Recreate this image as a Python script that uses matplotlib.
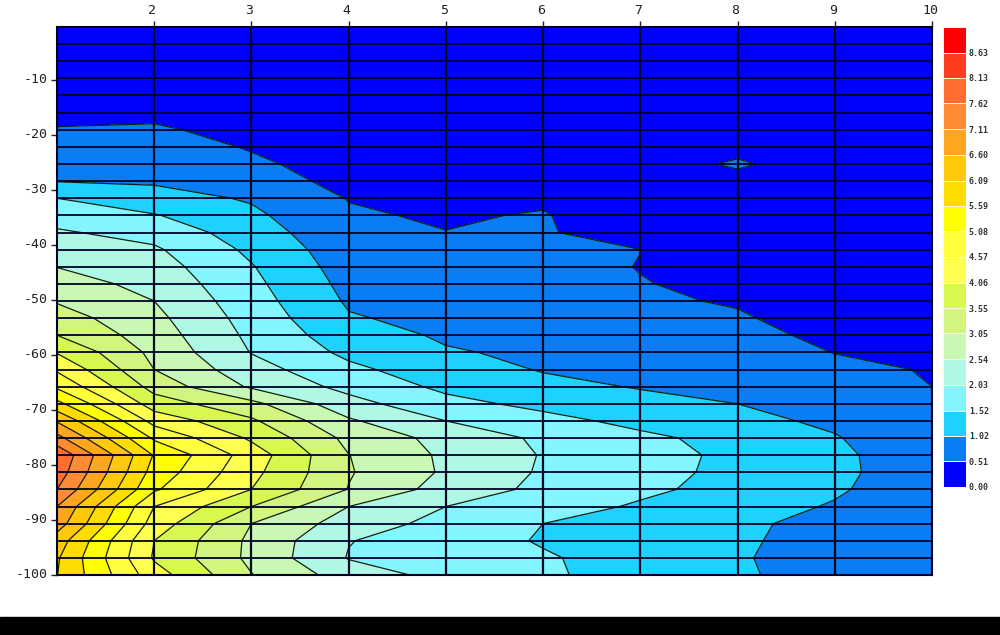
import numpy as np
import matplotlib
matplotlib.use("Agg")
import matplotlib.pyplot as plt
from matplotlib.colors import ListedColormap, BoundaryNorm
from matplotlib.patches import Rectangle
from matplotlib.transforms import ScaledTranslation

x_vals = [1, 2, 3, 4, 5, 6, 7, 8, 9, 10]
depth = [-0.36, -3.47, -6.59, -9.70, -12.81, -15.93, -19.04, -22.16, -25.27, -28.38, -31.50,
         -34.61, -37.73, -40.84, -43.95, -47.07, -50.18, -53.30, -56.41, -59.52, -62.64,
         -65.75, -68.87, -71.98, -75.09, -78.21, -81.32, -84.44, -87.55, -90.66, -93.78,
         -96.89, -100.0]

# values per column, top row first
col1 = [.20, .20, .20, .25, .32, .42, .53, .69, .85, 1.00, 1.52, 1.82, 2.09, 2.31, 2.53, 2.76, 3.01,
        3.28, 3.55, 4.03, 4.50, 4.99, 5.74, 6.55, 7.28, 8.05, 7.90, 7.62, 7.11, 6.85, 6.35, 6.15, 6.10]
col2 = [.20, .20, .22, .26, .32, .40, .57, .69, .82, .96, 1.21, 1.55, 1.85, 2.10, 2.25, 2.39, 2.54,
        2.67, 2.79, 2.92, 3.05, 3.36, 3.80, 4.39, 5.00, 5.55, 5.39, 5.15, 4.57, 4.35, 4.06, 4.00, 4.29]
col3 = [.20, .20, .20, .22, .26, .30, .36, .48, .58, .72, .97, 1.12, 1.27, 1.42, 1.55, 1.64, 1.73,
        1.83, 1.92, 2.01, 2.24, 2.47, 3.19, 3.63, 3.98, 4.33, 4.20, 4.06, 3.55, 3.05, 2.94, 2.93, 3.07]
col4 = [.20, .20, .20, .20, .22, .24, .27, .30, .34, .38, .49, .57, .64, .73, .80, .88, .96,
        1.06, 1.23, 1.41, 1.63, 1.88, 2.21, 2.61, 2.92, 3.06, 3.09, 3.03, 2.54, 2.31, 2.05, 2.00, 2.30]
col5 = [.20, .20, .20, .20, .20, .22, .24, .27, .30, .35, .40, .45, .52, .59, .66, .74, .82,
        .89, .96, 1.06, 1.24, 1.41, 1.67, 2.03, 2.37, 2.45, 2.47, 2.33, 2.03, 1.86, 1.75, 1.80, 1.87]
col6 = [.20, .20, .20, .20, .20, .22, .24, .27, .30, .35, .42, .55, .57, .62, .68, .74, .79,
        .85, .90, .94, .99, 1.15, 1.39, 1.68, 1.94, 2.00, 1.97, 1.91, 1.74, 1.52, 1.48, 1.57, 1.59]
col7 = [.20, .20, .20, .20, .20, .20, .20, .20, .20, .15, .10, .10, .20, .515, .495, .53, .58,
        .65, .73, .82, .90, .99, 1.17, 1.38, 1.63, 1.71, 1.68, 1.62, 1.46, 1.30, 1.27, 1.32, 1.33]
col8 = [.15, .15, .15, .15, .15, .15, .15, .30, .60, .30, .15, .15, .20, .25, .30, .40, .47,
        .56, .65, .74, .83, .92, 1.02, 1.14, 1.35, 1.41, 1.40, 1.35, 1.22, 1.09, 1.07, 1.05, 1.07]
col9 = [.15, .15, .15, .15, .15, .15, .15, .12, .12, .12, .15, .15, .15, .18, .20, .22, .25,
        .30, .40, .50, .62, .73, .84, .94, 1.05, 1.12, 1.13, 1.08, .98, .90, .88, .87, .86]
col10 = [.15, .15, .15, .15, .15, .15, .15, .15, .15, .15, .15, .15, .15, .15, .18, .20, .22,
         .25, .30, .35, .48, .51, .57, .63, .68, .72, .73, .72, .72, .72, .72, .72, .72]

levels = [0.00, 0.51, 1.02, 1.52, 2.03, 2.54, 3.05, 3.55, 4.06, 4.57, 5.08, 5.59, 6.09,
          6.60, 7.11, 7.62, 8.13, 8.63, 9.14]
level_labels = ["0.00", "0.51", "1.02", "1.52", "2.03", "2.54", "3.05", "3.55", "4.06",
                "4.57", "5.08", "5.59", "6.09", "6.60", "7.11", "7.62", "8.13", "8.63"]
band_colors = ["#0000FF", "#0A7DF5", "#1ED2FF", "#82F5FF", "#AFF8E6", "#C8F8B4", "#D2F57D", "#D8F850",
               "#FFFF50", "#FFFF3C", "#FFFF00", "#FFDC00", "#FFC80A", "#FFA51E", "#FF8C32", "#FF6E30",
               "#FF3C1E", "#FF0000"]

z = np.array([col1, col2, col3, col4, col5, col6, col7, col8, col9, col10]).T
cmap = ListedColormap(band_colors)
norm = BoundaryNorm(levels, cmap.N)

W, H = 1000, 635
fig = plt.figure(figsize=(W / 100, H / 100), dpi=100, facecolor="white")

# black strip along the bottom of the frame
fig.add_artist(Rectangle((0, 0), 1, 18 / H, transform=fig.transFigure, color="black", zorder=5))

ax = fig.add_axes([57 / W, 1 - 575 / H, 875 / W, 548 / H])
ax.contourf(x_vals, depth, z, levels=levels, cmap=cmap, norm=norm)
ax.contour(x_vals, depth, z, levels=levels[1:-1], colors="#102010", linewidths=0.9)

ax.hlines(depth, 1, 10, color="#000028", linewidth=1.3)
ax.vlines(x_vals[1:-1], -100, depth[0], color="#000820", linewidth=1.6)

ax.set_xlim(1, 10)
ax.set_ylim(-100, -0.36)
ax.xaxis.tick_top()
ax.set_xticks(x_vals[1:])
ax.set_yticks([-10, -20, -30, -40, -50, -60, -70, -80, -90, -100])
ax.set_yticklabels(["-10", "-20", "-30", "-40", "-50", "-60", "-70", "-80", "-90", "-100"])
ax.tick_params(length=4, width=1, pad=3, labelsize=9.5, colors="#222222")
nudge_x = ScaledTranslation(-2 / 100, 0, fig.dpi_scale_trans)
nudge_y = ScaledTranslation(0, 2 / 100, fig.dpi_scale_trans)
for lab in ax.get_xticklabels():
    lab.set_family("DejaVu Sans Mono")
    lab.set_transform(lab.get_transform() + nudge_x)
for lab in ax.get_yticklabels():
    lab.set_family("DejaVu Sans Mono")
    lab.set_transform(lab.get_transform() + nudge_y)
for s in ax.spines.values():
    s.set_linewidth(1.5)
    s.set_color("#000020")

# colour key
cax = fig.add_axes([943 / W, 1 - 487 / H, 23 / W, 460 / H])
cax.pcolormesh([0, 1], levels, np.arange(18).reshape(-1, 1), cmap=cmap, vmin=-0.5, vmax=17.5,
               edgecolors="#FFF6D8", linewidth=0.4)
cax.set_xticks([])
cax.set_ylim(0, 9.14)
cax.yaxis.tick_right()
cax.set_yticks(levels[:-1])
cax.set_yticklabels(level_labels)
cax.tick_params(length=0, pad=2, labelsize=6, colors="#333333")
for lab in cax.get_yticklabels():
    lab.set_family("DejaVu Sans Mono")
    lab.set_weight("bold")
for s in cax.spines.values():
    s.set_visible(False)

fig.savefig("out.png", dpi=100)
